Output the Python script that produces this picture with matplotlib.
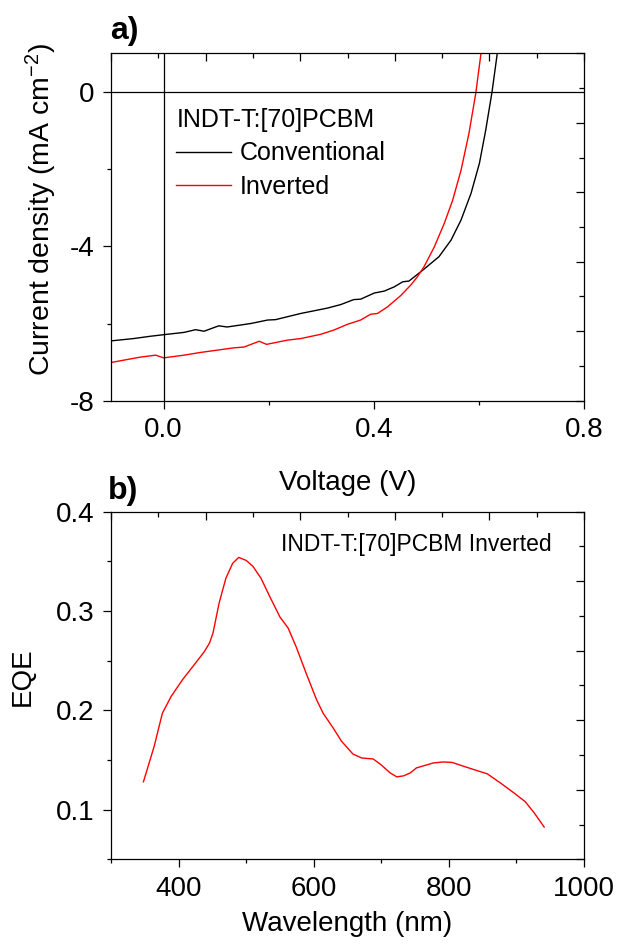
import numpy as np
import matplotlib.pyplot as plt
from matplotlib.ticker import FixedLocator

plt.rcParams['font.family'] = ['Liberation Sans', 'DejaVu Sans']
plt.rcParams['mathtext.fontset'] = 'custom'
plt.rcParams['mathtext.rm'] = 'Liberation Sans'
plt.rcParams['mathtext.it'] = 'Liberation Sans'
plt.rcParams['axes.unicode_minus'] = False

# a) J-V curves (V in volts, J in mA cm^-2)
v_conv = [-0.100, -0.057, -0.025, 0.000, 0.039, 0.061, 0.077, 0.105, 0.121, 0.166,
          0.198, 0.213, 0.261, 0.312, 0.337, 0.362, 0.375, 0.401, 0.420, 0.439,
          0.455, 0.467, 0.493, 0.524, 0.547, 0.566, 0.585, 0.601, 0.613, 0.625, 0.635]
j_conv = [-6.45, -6.39, -6.33, -6.29, -6.23, -6.16, -6.20, -6.06, -6.09, -6.00,
          -5.91, -5.90, -5.74, -5.60, -5.51, -5.38, -5.37, -5.21, -5.16, -5.05,
          -4.92, -4.90, -4.62, -4.27, -3.84, -3.32, -2.63, -1.85, -0.99, 0.00, 1.00]

v_inv = [-0.100, -0.044, -0.015, 0.000, 0.039, 0.070, 0.134, 0.153, 0.182, 0.196,
         0.236, 0.261, 0.299, 0.324, 0.350, 0.375, 0.394, 0.407, 0.426, 0.451,
         0.470, 0.483, 0.496, 0.515, 0.534, 0.550, 0.566, 0.581, 0.594, 0.604]
j_inv = [-7.01, -6.87, -6.82, -6.89, -6.82, -6.75, -6.63, -6.61, -6.46, -6.54,
         -6.43, -6.39, -6.28, -6.17, -6.02, -5.91, -5.76, -5.74, -5.57, -5.28,
         -5.01, -4.79, -4.52, -4.02, -3.41, -2.81, -2.03, -1.08, -0.04, 1.00]

# b) EQE spectrum
wl = [348, 364, 376, 389, 406, 421, 438, 446, 451, 460, 470, 480, 489, 500,
      510, 522, 535, 550, 562, 574, 589, 604, 614, 629, 641, 658, 671, 688,
      700, 713, 723, 733, 743, 752, 777, 792, 805, 827, 857, 876, 896, 913,
      926, 941]
eqe = [0.128, 0.164, 0.197, 0.214, 0.231, 0.244, 0.259, 0.268, 0.278, 0.308,
       0.333, 0.348, 0.354, 0.351, 0.345, 0.333, 0.3145, 0.294, 0.283, 0.264,
       0.237, 0.211, 0.197, 0.182, 0.169, 0.156, 0.152, 0.151, 0.145, 0.137,
       0.133, 0.134, 0.137, 0.142, 0.147, 0.148, 0.1475, 0.1425, 0.136, 0.127,
       0.117, 0.108, 0.097, 0.0825]

fs = 20

fig = plt.figure(figsize=(6.18, 9.48), dpi=100)
ax1 = fig.add_axes([0.1796, 0.5773, 0.7654, 0.3665])
ax2 = fig.add_axes([0.1796, 0.0936, 0.7654, 0.3666])


def style(ax):
    for s in ax.spines.values():
        s.set_linewidth(0.9)
        s.set_color('black')
    ax.tick_params(which='both', direction='out', top=False, right=False,
                   labelsize=fs, width=0.9, color='black')
    ax.tick_params(which='major', length=6, pad=6)
    ax.tick_params(which='minor', length=3)
    # top / right ticks sit on their own 10-interval scale (separate overlay axes)
    ov = fig.add_axes(ax.get_position(), frameon=False)
    ov.patch.set_visible(False)
    ov.set_xlim(0, 10)
    ov.set_ylim(0, 10)
    ov.xaxis.tick_top()
    ov.yaxis.tick_right()
    for axis in (ov.xaxis, ov.yaxis):
        axis.set_major_locator(FixedLocator(range(0, 11, 2)))
        axis.set_minor_locator(FixedLocator(range(1, 10, 2)))
    ov.tick_params(which='both', direction='in', width=0.9, color='black',
                   top=True, right=True, bottom=False, left=False,
                   labeltop=False, labelright=False, labelbottom=False, labelleft=False)
    ov.tick_params(which='major', length=5.5)
    ov.tick_params(which='minor', length=3.5)


# panel a
ax1.plot(v_conv, j_conv, color='black', lw=1.0, label='Conventional')
ax1.plot(v_inv, j_inv, color='red', lw=1.0, label='Inverted')
ax1.axhline(0, color='black', lw=0.9)
ax1.axvline(0, color='black', lw=0.9)
ax1.set_xlim(-0.1, 0.8)
ax1.set_ylim(-8, 1)
ax1.set_xticks([0.0, 0.4, 0.8])
ax1.set_xticklabels(['0.0', '0.4', '0.8'])
ax1.set_xticks([0.2, 0.6], minor=True)
ax1.set_yticks([-8, -4, 0])
ax1.set_yticks([-6, -2], minor=True)
ax1.set_xlabel('Voltage (V)', fontsize=fs)
ax1.xaxis.set_label_coords(0.5, -0.20)
ax1.set_ylabel('Current density (mA cm$^{-2}$)', fontsize=20.5)
ax1.yaxis.set_label_coords(-0.110, 0.55)
leg = ax1.legend(loc='upper left', bbox_to_anchor=(0.138, 0.843), frameon=False,
                 fontsize=18, title='INDT-T:[70]PCBM', title_fontsize=18,
                 alignment='left', borderpad=0, borderaxespad=0,
                 handlelength=2.2, handletextpad=0.35, labelspacing=0.38)
style(ax1)

# panel b
ax2.plot(wl, eqe, color='red', lw=1.0)
ax2.set_xlim(300, 1000)
ax2.set_ylim(0.05, 0.4)
ax2.set_xticks([400, 600, 800, 1000])
ax2.set_xticks([300, 500, 700, 900], minor=True)
ax2.set_yticks([0.1, 0.2, 0.3, 0.4])
ax2.set_yticklabels(['0.1', '0.2', '0.3', '0.4'])
ax2.set_yticks([0.05, 0.15, 0.25, 0.35], minor=True)
ax2.set_xlabel('Wavelength (nm)', fontsize=fs)
ax2.xaxis.set_label_coords(0.5, -0.148)
ax2.set_ylabel('EQE', fontsize=fs)
ax2.yaxis.set_label_coords(-0.160, 0.524)
ax2.text(0.359, 0.888, 'INDT-T:[70]PCBM Inverted', transform=ax2.transAxes,
         fontsize=16.5, va='baseline', ha='left')
style(ax2)

fig.text(110 / 618, 1 - 39 / 948, 'a)', fontsize=23, fontweight='bold', va='baseline')
fig.text(108 / 618, 1 - 499 / 948, 'b)', fontsize=23, fontweight='bold', va='baseline')

fig.savefig('out.png', dpi=100)
